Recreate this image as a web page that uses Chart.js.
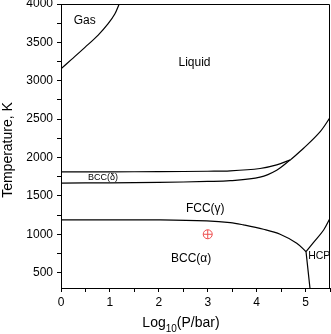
<!DOCTYPE html>
<html>
<head>
<meta charset="utf-8">
<script src="https://cdn.jsdelivr.net/npm/chart.js@4.4.1/dist/chart.umd.min.js"></script>
<style>
  body { margin: 0; background: #fff; }
  canvas { display: block; }
</style>
</head>
<body>
<canvas id="phase_chart" width="331" height="334"></canvas>
<script>
// phase boundaries of iron, log10(P/bar) vs T (K)
var boilX = [0, 0.21, 0.49, 0.76, 0.96, 1.10, 1.19];
var boilT = [3156, 3275, 3435, 3595, 3740, 3870, 4000];

var deltaLiqX = [0, 1, 2, 3, 3.46, 4.07, 4.41, 4.69];
var deltaLiqT = [1813, 1814, 1816, 1821, 1826, 1857, 1904, 1969];

var deltaGamX = [0, 1, 2, 3, 3.46, 4.07, 4.41, 4.69];
var deltaGamT = [1667, 1670, 1676, 1688, 1698, 1745, 1835, 1969];

var gamLiqX = [4.69, 4.96, 5.30, 5.5];
var gamLiqT = [1969, 2121, 2338, 2520];

var alphaGamX = [0, 1, 2.03, 2.98, 3.46, 3.73, 4.14, 4.48, 4.82, 5.01];
var alphaGamT = [1187, 1187, 1187, 1174, 1152, 1122, 1065, 1000, 883, 773];

var alphaEpsX = [5.01, 5.09];
var alphaEpsT = [773, 300];

var gamEpsX = [5.01, 5.16, 5.37, 5.5];
var gamEpsT = [773, 891, 1056, 1209];

var markX = [3];
var markT = [1000];

var xTickLabels = [0, 1, 2, 3, 4, 5];
var yTickLabels = [500, 1000, 1500, 2000, 2500, 3000, 3500, 4000];

var regionNames = ["Gas", "Liquid", "BCC(\u03b4)", "FCC(\u03b3)", "BCC(\u03b1)", "HCP"];
var regionX = [0.485, 2.73, 0.86, 2.95, 2.66, 5.28];
var regionT = [3782, 3234, 1738, 1330, 678, 721];
var regionSize = [12, 12, 9, 12, 12, 10.5];

var FONT = "'Liberation Sans', Arial, sans-serif";

function pts(xs, ys) {
  return xs.map(function (x, i) { return { x: x, y: ys[i] }; });
}

function curve(xs, ys) {
  return {
    data: pts(xs, ys),
    showLine: true,
    borderColor: '#000',
    borderWidth: 1.2,
    pointRadius: 0,
    tension: 0.35,
    fill: false
  };
}

var marker1 = {
  data: pts(markX, markT),
  showLine: false,
  pointStyle: 'circle',
  pointRadius: 4.5,
  borderColor: 'rgb(238,80,80)',
  backgroundColor: 'rgba(0,0,0,0)',
  borderWidth: 1
};
var marker2 = {
  data: pts(markX, markT),
  showLine: false,
  pointStyle: 'cross',
  pointRadius: 4.5,
  borderColor: 'rgb(238,80,80)',
  borderWidth: 1
};

var textPlugin = {
  id: 'texts',
  afterDraw: function (chart) {
    var ctx = chart.ctx;
    var xs = chart.scales.x, ys = chart.scales.y;
    var a = chart.chartArea;
    ctx.save();
    // frame top / right
    ctx.strokeStyle = '#000';
    ctx.lineWidth = 1;
    ctx.beginPath();
    ctx.moveTo(a.left, a.top + 0.5);
    ctx.lineTo(a.right - 0.5, a.top + 0.5);
    ctx.lineTo(a.right - 0.5, a.bottom);
    ctx.stroke();

    ctx.fillStyle = '#000';
    ctx.textAlign = 'center';
    ctx.textBaseline = 'middle';
    for (var i = 0; i < regionNames.length; i++) {
      ctx.font = regionSize[i] + 'px ' + FONT;
      ctx.fillText(regionNames[i], xs.getPixelForValue(regionX[i]), ys.getPixelForValue(regionT[i]));
    }

    // y title
    ctx.save();
    ctx.translate(8, 150);
    ctx.rotate(-Math.PI / 2);
    ctx.font = '14px ' + FONT;
    ctx.fillText('Temperature, K', 0, 0);
    ctx.restore();

    // x title with subscript
    ctx.textAlign = 'left';
    ctx.textBaseline = 'alphabetic';
    var big = '14px ' + FONT, small = '10px ' + FONT;
    ctx.font = big;
    var w1 = ctx.measureText('Log').width;
    var w3 = ctx.measureText('(P/bar)').width;
    ctx.font = small;
    var w2 = ctx.measureText('10').width;
    var x0 = 181 - (w1 + w2 + w3) / 2;
    var base = 327;
    ctx.font = big;
    ctx.fillText('Log', x0, base);
    ctx.font = small;
    ctx.fillText('10', x0 + w1, base + 4.5);
    ctx.font = big;
    ctx.fillText('(P/bar)', x0 + w1 + w2, base);
    ctx.restore();
  }
};

var ctx = document.getElementById('phase_chart').getContext('2d');
var phaseChart = new Chart(ctx, {
  type: 'scatter',
  data: {
    datasets: [
      curve(boilX, boilT),
      curve(deltaLiqX, deltaLiqT),
      curve(deltaGamX, deltaGamT),
      curve(gamLiqX, gamLiqT),
      curve(alphaGamX, alphaGamT),
      curve(alphaEpsX, alphaEpsT),
      curve(gamEpsX, gamEpsT),
      marker1,
      marker2
    ]
  },
  options: {
    responsive: false,
    animation: false,
    devicePixelRatio: 1,
    layout: { autoPadding: false, padding: { top: 4, right: 1, left: 0, bottom: 0 } },
    plugins: { legend: { display: false }, tooltip: { enabled: false } },
    scales: {
      x: {
        type: 'linear',
        min: 0,
        max: 5.5,
        afterBuildTicks: function (s) {
          var t = [];
          for (var v = 0; v <= 5.5; v += 0.5) t.push({ value: v });
          s.ticks = t;
        },
        ticks: {
          autoSkip: false,
          maxRotation: 0,
          padding: 3,
          color: '#000',
          font: { size: 12, family: FONT },
          callback: function (v) { return xTickLabels.indexOf(v) >= 0 ? String(v) : ''; }
        },
        grid: { drawOnChartArea: false, tickLength: 4, color: '#000' },
        border: { color: '#000', width: 1 },
        afterFit: function (s) { s.height = 46; s.paddingLeft = 0; s.paddingRight = 0; }
      },
      y: {
        type: 'linear',
        min: 300,
        max: 4000,
        afterBuildTicks: function (s) {
          var t = [];
          for (var v = 500; v <= 4000; v += 250) t.push({ value: v });
          s.ticks = t;
        },
        ticks: {
          autoSkip: false,
          padding: 4,
          color: '#000',
          font: { size: 12, family: FONT },
          callback: function (v) { return yTickLabels.indexOf(v) >= 0 ? String(v) : ''; }
        },
        grid: { drawOnChartArea: false, tickLength: 4, color: '#000' },
        border: { color: '#000', width: 1 },
        afterFit: function (s) { s.width = 61; s.paddingTop = 0; s.paddingBottom = 0; }
      }
    }
  },
  plugins: [textPlugin]
});
</script>
</body>
</html>
